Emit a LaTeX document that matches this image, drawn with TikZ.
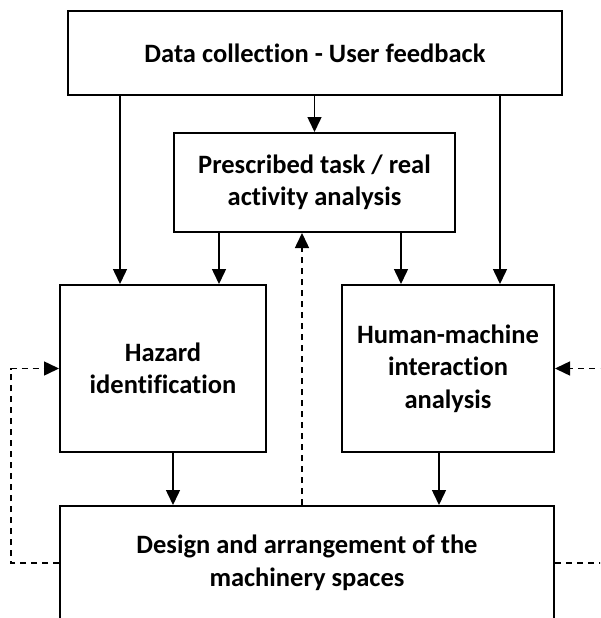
\documentclass[tikz,border=0pt]{standalone}
\usepackage{fontspec}
\setmainfont{Carlito}[Ligatures=NoCommon]
\usetikzlibrary{arrows.meta}

\tikzset{
  blockbox/.style={draw, line width=2pt, align=center, inner sep=0pt,
    font=\bfseries\fontsize{26.5}{32.5}\selectfont},
  flow/.style={line width=1.5pt, -{Triangle[length=15pt,width=14pt]}},
  feedback/.style={flow, dash pattern=on 6pt off 5pt},
}

\begin{document}
\begin{tikzpicture}[x=1pt,y=-1pt]
  \useasboundingbox (0,0) rectangle (600,618);
  \clip (0,0) rectangle (600,618);
  % Blocks
  \node[blockbox, minimum width=494pt, minimum height=84pt] (data) at (315,53) {Data collection - User feedback};
  \node[blockbox, minimum width=281pt, minimum height=99pt] (task) at (314.5,182.5) {Prescribed task / real\\activity analysis};
  \node[blockbox, minimum width=206pt, minimum height=167pt] (hazard) at (163,368.5) {Hazard\\identification};
  \node[blockbox, minimum width=212pt, minimum height=167pt] (hmi) at (448,368.5) {Human-machine\\interaction\\analysis};
  \node[blockbox, minimum width=494pt, minimum height=114pt] (design) at (307,563) {Design and arrangement of the\\machinery spaces};
  % Arrow ends on the blocks
  \coordinate (hz1) at ([xshift=61pt]hazard.north west);
  \coordinate (hz2) at ([xshift=160pt]hazard.north west);
  \coordinate (hm1) at ([xshift=60pt]hmi.north west);
  \coordinate (hm2) at ([xshift=159pt]hmi.north west);
  \coordinate (ds1) at ([xshift=114pt]design.north west);
  \coordinate (ds2) at ([xshift=380pt]design.north west);
  \coordinate (ds3) at ([xshift=243pt]design.north west);
  % Flow arrows
  \draw[flow] (data.south -| task.north) -- (task.north);
  \draw[flow] (data.south -| hz1) -- (hz1);
  \draw[flow] (data.south -| hm2) -- (hm2);
  \draw[flow] (task.south -| hz2) -- (hz2);
  \draw[flow] (task.south -| hm1) -- (hm1);
  \draw[flow] (hazard.south -| ds1) -- (ds1);
  \draw[flow] (hmi.south -| ds2) -- (ds2);
  % Feedback loops
  \draw[feedback] (ds3) -- (task.south -| ds3);
  \draw[feedback] (design.west) -- ++(-48,0) |- (hazard.west);
  \draw[feedback] (design.east) -- ++(60,0) |- (hmi.east);
\end{tikzpicture}
\end{document}
